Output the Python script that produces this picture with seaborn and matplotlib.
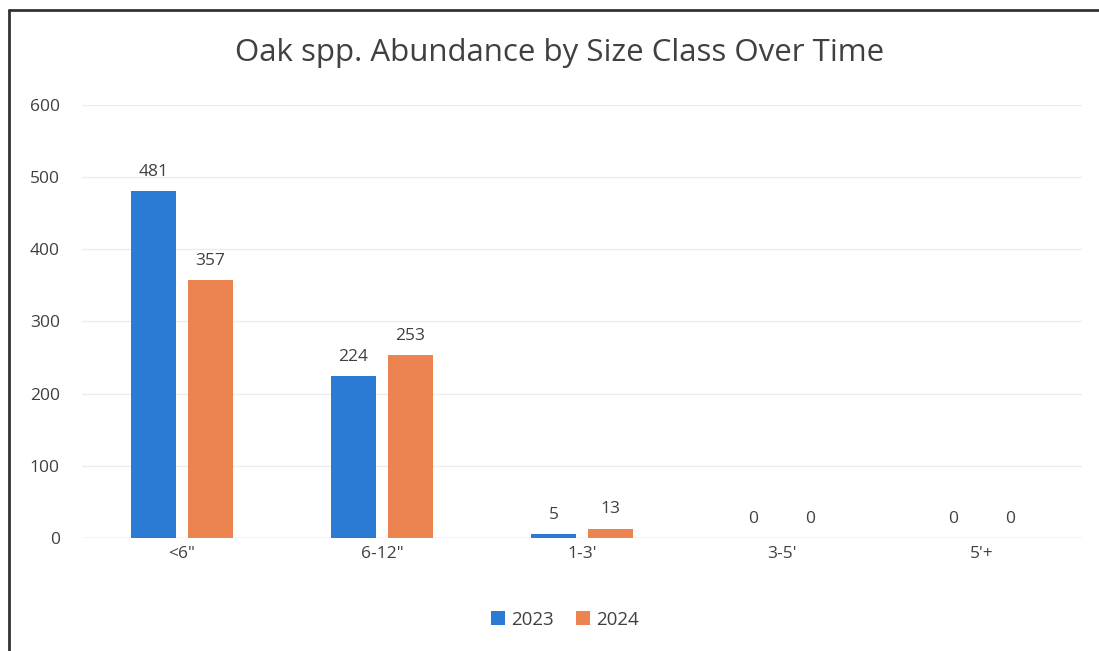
import matplotlib.pyplot as plt
import numpy as np
import pandas as pd
import seaborn as sns
from matplotlib.lines import Line2D

size_classes = ['<6"', '6-12"', "1-3'", "3-5'", "5'+"]
years = ["2023", "2024"]
counts_2023 = [481, 224, 5, 0, 0]
counts_2024 = [357, 253, 13, 0, 0]

df = pd.DataFrame({
    "size": size_classes * 2,
    "year": ["2023"] * len(size_classes) + ["2024"] * len(size_classes),
    "count": counts_2023 + counts_2024,
})

sns.set_theme(style="white")
plt.rcParams["font.family"] = ["Open Sans", "DejaVu Sans"]
txt = "#404040"

fig = plt.figure(figsize=(10.99, 6.51), dpi=100)
ax = fig.add_axes([0.0746, 0.1736, 0.91, 0.6651])

sns.barplot(data=df, x="size", y="count", hue="year", order=size_classes,
            hue_order=years, palette=["#2B7BD5", "#EB8450"],
            width=0.57, gap=0.21, saturation=1, linewidth=0, ax=ax, legend=True)

for c in ax.containers:
    ax.bar_label(c, padding=8, fontsize=12.5, color=txt)

ax.set_ylim(0, 600)
ax.set_yticks(np.arange(0, 601, 100))
ax.set_xlim(-0.5, 4.5)
ax.grid(axis="y", color="#ececec", linewidth=1)
ax.set_axisbelow(True)
for s in ax.spines.values():
    s.set_visible(False)
ax.axhline(0, color="#d9d9d9", linewidth=1, zorder=0)
ax.tick_params(axis="both", length=0, labelsize=12.5, labelcolor=txt, pad=6)
ax.tick_params(axis="y", pad=16)
ax.set_xlabel("")
ax.set_ylabel("")

handles, labels = ax.get_legend_handles_labels()
ax.get_legend().remove()
fig.legend(handles, labels, loc="center", bbox_to_anchor=(0.514, 0.048), ncol=2,
           frameon=False, fontsize=13.5, handlelength=0.75, handleheight=0.75,
           handletextpad=0.3, columnspacing=1.2, labelcolor=txt)

fig.text(0.509, 0.918, "Oak spp. Abundance by Size Class Over Time",
         ha="center", va="center", fontsize=22.5, color=txt)

# chart frame (left and top edges visible in the scan)
fig.add_artist(Line2D([0.0082, 0.0082], [0.0, 0.985], color="#333333", linewidth=2))
fig.add_artist(Line2D([0.0082, 1.0], [0.985, 0.985], color="#333333", linewidth=2))

fig.savefig("out.png", dpi=100)
